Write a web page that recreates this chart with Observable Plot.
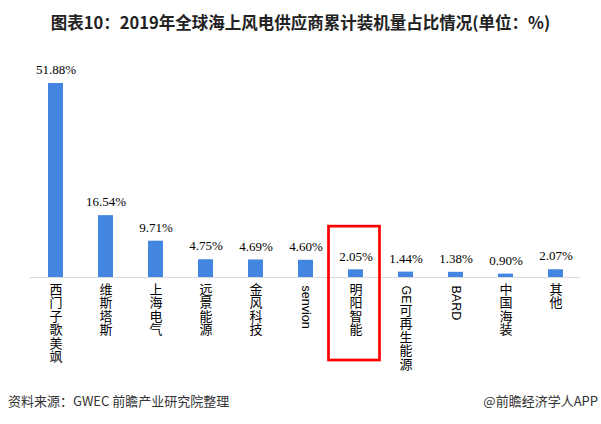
<!DOCTYPE html>
<html><head><meta charset="utf-8">
<script src="https://cdn.jsdelivr.net/npm/d3@7"></script>
<script src="https://cdn.jsdelivr.net/npm/@observablehq/plot@0.6"></script>
<style>
body{margin:0;background:#fff;width:601px;height:424px;overflow:hidden;font-family:"Noto Sans CJK SC",sans-serif}
#title{height:44px;line-height:44px;text-align:center;font-weight:bold;font-size:16.5px;color:#222}
#footer{height:34px;line-height:34px;font-size:13px;color:#333;display:flex;justify-content:space-between;padding:0 3px 0 8px}
</style></head><body>
<div id="title">图表10：2019年全球海上风电供应商累计装机量占比情况(单位：%)</div>
<div id="chart"></div>
<div id="footer"><span>资料来源：GWEC 前瞻产业研究院整理</span><span>@前瞻经济学人APP</span></div>
<script>
const companies = ["西门子歌美飒","维斯塔斯","上海电气","远景能源","金风科技","senvion","明阳智能","GE可再生能源","BARD","中国海装","其他"];
const shares = [51.88,16.54,9.71,4.75,4.69,4.60,2.05,1.44,1.38,0.90,2.07];
const highlighted = ["明阳智能"];
const data = companies.map((c,i)=>({company:c, share:shares[i]}));
const latinRe = /^[A-Za-z]+/;
const latinLabels = data.filter(d=>latinRe.test(d.company)).map(d=>({company:d.company, part:d.company.match(latinRe)[0]}));
const cjkLabels = [], cjkAfterLatin = [];
data.forEach(d=>{
  const m = d.company.match(latinRe);
  const rest = m ? d.company.slice(m[0].length) : d.company;
  if (!rest) return;
  const row = {company:d.company, text:Array.from(rest).join("\n")};
  (m ? cjkAfterLatin : cjkLabels).push(row);
});
const plot = Plot.plot({
  width:601, height:340, marginLeft:30, marginRight:21, marginTop:0, marginBottom:0,
  x:{domain:companies, range:[30,580], paddingInner:0.7, paddingOuter:0.35, axis:null},
  y:{domain:[0,51.88], range:[233,39], axis:null},
  style:{background:"#fff", overflow:"visible", fontFamily:"Noto Sans CJK SC"},
  marks:[
    Plot.barY(data,{x:"company", y:"share", fill:"#4286e0"}),
    Plot.ruleY([0],{stroke:"#d9d9d9", strokeWidth:1}),
    Plot.text(data,{x:"company", y:"share", text:d=>d.share.toFixed(2)+"%", dy:-13.5, fontFamily:"Liberation Serif", fontSize:13, fill:"#000"}),
    Plot.text(cjkLabels,{x:"company", y:()=>0, text:"text", dy:7, lineAnchor:"top", lineHeight:1.03, fontSize:13, fill:"#000"}),
    Plot.text(cjkAfterLatin,{x:"company", y:()=>0, text:"text", dy:28, lineAnchor:"top", lineHeight:1.03, fontSize:13, fill:"#000"}),
    Plot.text(latinLabels,{x:"company", y:()=>0, text:"part", dy:8, rotate:90, textAnchor:"start", fontFamily:"Liberation Sans", fontSize:12.5, fill:"#000"}),
    Plot.barY(highlighted,{x:d=>d, y1:()=>-22.2, y2:()=>13.6, fill:"none", stroke:"#ff0000", strokeWidth:2.7, insetLeft:-19.5, insetRight:-16.5})
  ]
});
document.getElementById("chart").appendChild(plot);
</script>
</body></html>
